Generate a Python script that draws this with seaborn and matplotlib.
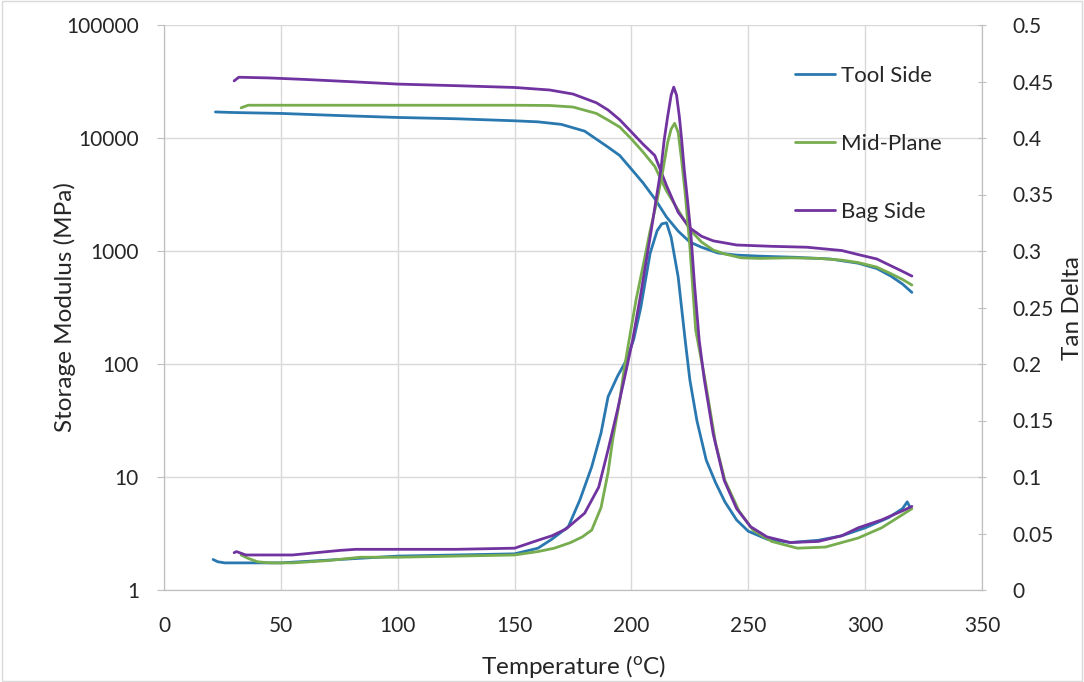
import numpy as np
import pandas as pd
import matplotlib
matplotlib.use("Agg")
import matplotlib.pyplot as plt
import seaborn as sns
from matplotlib.patches import Rectangle

# --- Storage modulus (MPa) ---
tool_T = [22, 30, 50, 75, 100, 125, 150, 160, 170, 180, 190, 195, 200, 205, 210, 215, 220,
          225, 230, 237, 245, 255, 270, 285, 297, 305, 311, 316, 320]
tool_E = [17000, 16800, 16500, 15800, 15200, 14800, 14200, 13900, 13200, 11500, 8300, 7000,
          5300, 4000, 2900, 2000, 1500, 1200, 1080, 960, 920, 900, 880, 850, 780, 700, 600, 510, 430]

mid_T = [33, 36, 50, 100, 150, 165, 175, 185, 190, 195, 200, 205, 210, 215, 220, 225, 230, 235,
         240, 247, 255, 268, 280, 290, 297, 305, 311, 316, 320]
mid_E = [18500, 19500, 19500, 19500, 19500, 19400, 18800, 16500, 14400, 12500, 9800, 7500, 5600,
         3400, 2300, 1550, 1200, 1020, 940, 870, 860, 870, 860, 830, 790, 720, 630, 560, 500]

bag_T = [30, 32, 45, 60, 80, 100, 126, 150, 165, 175, 185, 190, 195, 200, 205, 210, 215, 220, 225,
         230, 235, 245, 260, 275, 290, 297, 305, 311, 316, 320]
bag_E = [32000, 34500, 34000, 33000, 31500, 30000, 29000, 28000, 26600, 24500, 20500, 17700, 14500,
         11300, 8800, 7000, 3800, 2200, 1600, 1350, 1230, 1130, 1100, 1080, 1010, 930, 850, 740, 660, 600]

# --- Tan delta ---
tool_tT = [21, 23, 26, 35, 50, 75, 100, 125, 150, 160, 166, 173, 178, 183, 187, 190, 194, 198, 201,
           204, 208, 211, 213, 215, 217, 220, 223, 225, 228, 232, 236, 240, 245, 250, 258, 268, 280,
           290, 300, 310, 316, 318, 319]
tool_tan = [0.027, 0.025, 0.024, 0.024, 0.024, 0.027, 0.030, 0.031, 0.032, 0.037, 0.045, 0.056,
            0.080, 0.109, 0.139, 0.171, 0.189, 0.204, 0.222, 0.250, 0.298, 0.318, 0.324, 0.325,
            0.312, 0.277, 0.221, 0.186, 0.150, 0.115, 0.095, 0.078, 0.062, 0.052, 0.045, 0.042,
            0.044, 0.048, 0.055, 0.064, 0.072, 0.078, 0.074]

mid_tT = [33, 36, 40, 45, 55, 70, 84, 100, 125, 150, 160, 167, 174, 179, 183, 187, 190, 192, 195,
          197, 199.5, 202, 205.5, 208, 211, 213.5, 215.5, 217, 218.5, 220, 221.5, 223, 225, 227.5,
          231.5, 236, 240, 246, 252, 260, 271, 283, 297, 307, 317, 320]
mid_tan = [0.031, 0.028, 0.025, 0.024, 0.024, 0.026, 0.029, 0.029, 0.030, 0.031, 0.034, 0.037,
           0.042, 0.047, 0.053, 0.073, 0.104, 0.133, 0.168, 0.197, 0.227, 0.257, 0.292, 0.318,
           0.345, 0.372, 0.396, 0.408, 0.413, 0.405, 0.380, 0.351, 0.304, 0.230, 0.186, 0.130,
           0.097, 0.070, 0.053, 0.043, 0.037, 0.038, 0.046, 0.055, 0.068, 0.072]

bag_tT = [30, 31, 35, 45, 55, 65, 75, 82, 100, 125, 150, 160, 166, 172, 180, 186, 190, 194, 197.5,
          200.5, 204, 208.3, 210.5, 212.6, 214, 215.5, 217, 218.1, 219.3, 220.5, 221.5, 222.6, 224,
          225.4, 227, 229, 231.2, 235, 239.7, 245, 251, 258, 268, 280, 290, 297, 307, 317, 320]
bag_tan = [0.033, 0.034, 0.031, 0.031, 0.031, 0.033, 0.035, 0.036, 0.036, 0.036, 0.037, 0.044,
           0.048, 0.054, 0.068, 0.091, 0.124, 0.159, 0.192, 0.221, 0.262, 0.316, 0.345, 0.372,
           0.398, 0.419, 0.438, 0.445, 0.438, 0.419, 0.398, 0.372, 0.345, 0.316, 0.270, 0.221,
           0.186, 0.138, 0.097, 0.072, 0.056, 0.047, 0.042, 0.043, 0.048, 0.055, 0.062, 0.071, 0.074]

labels = ["Tool Side", "Mid-Plane", "Bag Side"]
colors = ["#2A78B0", "#77AC4F", "#7033A0"]

sns.set_style("white")
plt.rcParams["font.family"] = ["Lato", "DejaVu Sans"]
text_col = "#262626"
grid_col = "#D9D9D9"

fig = plt.figure(figsize=(10.84, 6.82), dpi=100)
ax = fig.add_axes([164 / 1084, 92 / 682, 818 / 1084, 565 / 682])
ax2 = ax.twinx()

storage = [(tool_T, tool_E), (mid_T, mid_E), (bag_T, bag_E)]
tand = [(tool_tT, tool_tan), (mid_tT, mid_tan), (bag_tT, bag_tan)]

for (t, e), lab, c in zip(storage, labels, colors):
    sns.lineplot(x=t, y=e, ax=ax, color=c, lw=2, label=lab, estimator=None, sort=False)
for (t, d), c in zip(tand, colors):
    sns.lineplot(x=t, y=d, ax=ax2, color=c, lw=2, estimator=None, sort=False)

# --- left axis (log) ---
ax.set_yscale("log")
ax.set_ylim(1, 100000)
ax.set_xlim(0, 350)
ax.set_xticks(np.arange(0, 351, 50))
dec = [1, 10, 100, 1000, 10000, 100000]
ax.set_yticks(dec)
ax.set_yticklabels([str(d) for d in dec])
ax.yaxis.set_minor_locator(matplotlib.ticker.NullLocator())
ax.grid(True, color=grid_col, lw=1)
ax.set_axisbelow(True)
ax.tick_params(axis="y", colors="#BFBFBF", labelcolor=text_col, labelsize=15, length=5, pad=13)
ax.tick_params(axis="x", length=0, labelcolor=text_col, labelsize=15, pad=19)
ax.set_xlabel(r"Temperature ($\mathregular{^{o}}$C)", fontsize=17.5, color=text_col)
ax.set_ylabel("Storage Modulus (MPa)", fontsize=17.5, color=text_col)
ax.xaxis.set_label_coords(0.5, -0.112)
ax.yaxis.set_label_coords(-0.108, 0.5)

# --- right axis (tan delta) ---
ax2.set_ylim(0, 0.5)
tks = np.round(np.arange(0, 0.501, 0.05), 2)
ax2.set_yticks(tks)
ax2.set_yticklabels([f"{v:g}" for v in tks])
ax2.tick_params(axis="y", colors="#BFBFBF", labelcolor=text_col, labelsize=15,
                length=6, direction="inout", pad=19)
ax2.set_ylabel("Tan Delta", fontsize=17.5, color=text_col)
ax2.yaxis.set_label_coords(1.098, 0.5)
ax2.grid(False)

for a in (ax, ax2):
    for s in a.spines.values():
        s.set_color("#BFBFBF")
    a.spines["top"].set_visible(False)

# legend
h, l = ax.get_legend_handles_labels()
ax.get_legend().remove()
fig.legend(h, l, loc="upper left", bbox_to_anchor=(775 / 1084, 1 - 46 / 682), frameon=False,
           fontsize=16, labelspacing=2.15, handlelength=1.8, handletextpad=0.25,
           labelcolor=text_col)

fig.patches.append(Rectangle((0.002, 0.002), 0.996, 0.996, transform=fig.transFigure,
                             fill=False, edgecolor="#D9D9D9", lw=1))

fig.savefig("out.png", dpi=100)
